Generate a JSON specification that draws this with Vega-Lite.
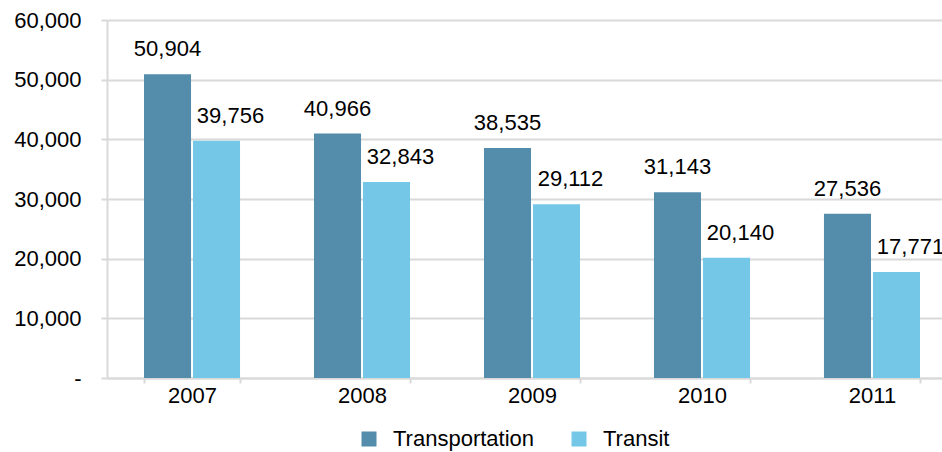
{
  "$schema": "https://vega.github.io/schema/vega-lite/v6.json",
  "autosize": "none",
  "width": 850,
  "height": 358,
  "padding": {"left": 107, "top": 20, "right": 0, "bottom": 74},
  "background": "white",
  "config": {
    "font": "Liberation Sans",
    "view": {"stroke": null},
    "axis": {"labelFont": "Liberation Sans", "labelColor": "#000000", "labelFontSize": 22}
  },
  "data": {
    "values": [
      {"year": "2007", "series": "Transportation", "value": 50904},
      {"year": "2007", "series": "Transit", "value": 39756},
      {"year": "2008", "series": "Transportation", "value": 40966},
      {"year": "2008", "series": "Transit", "value": 32843},
      {"year": "2009", "series": "Transportation", "value": 38535},
      {"year": "2009", "series": "Transit", "value": 29112},
      {"year": "2010", "series": "Transportation", "value": 31143},
      {"year": "2010", "series": "Transit", "value": 20140},
      {"year": "2011", "series": "Transportation", "value": 27536},
      {"year": "2011", "series": "Transit", "value": 17771}
    ]
  },
  "encoding": {
    "x": {
      "field": "year",
      "type": "nominal",
      "scale": {"paddingInner": 0.435, "paddingOuter": 0.2176},
      "axis": {
        "title": null,
        "labelAngle": 0,
        "tickBand": "extent",
        "domainColor": "#d9d9d9",
        "domainWidth": 2,
        "tickColor": "#d9d9d9",
        "tickWidth": 2,
        "tickSize": 5,
        "labelPadding": 2,
        "grid": false
      }
    },
    "xOffset": {
      "field": "series",
      "type": "nominal",
      "sort": ["Transportation", "Transit"],
      "scale": {"paddingInner": 0.04, "paddingOuter": 0}
    },
    "y": {
      "field": "value",
      "type": "quantitative",
      "scale": {"domain": [0, 60000], "nice": false},
      "axis": {
        "title": null,
        "values": [0, 10000, 20000, 30000, 40000, 50000, 60000],
        "labelExpr": "datum.value == 0 ? '-     ' : format(datum.value, ',')",
        "grid": true,
        "gridColor": "#d9d9d9",
        "gridWidth": 2,
        "domainColor": "#d9d9d9",
        "domainWidth": 2,
        "tickColor": "#d9d9d9",
        "tickWidth": 2,
        "tickSize": 6,
        "labelPadding": 20
      }
    }
  },
  "layer": [
    {
      "mark": {"type": "bar"},
      "encoding": {
        "color": {
          "field": "series",
          "type": "nominal",
          "sort": ["Transportation", "Transit"],
          "scale": {"domain": ["Transportation", "Transit"], "range": ["#548DAB", "#74C7E7"]},
          "legend": {
            "title": null,
            "orient": "none",
            "direction": "horizontal",
            "legendX": 251,
            "legendY": 408,
            "symbolType": "square",
            "symbolSize": 225,
            "symbolStrokeWidth": 0,
            "labelFontSize": 22,
            "labelFont": "Liberation Sans",
            "labelColor": "#000000",
            "labelOffset": 13,
            "columnPadding": 33,
            "padding": 0
          }
        }
      }
    },
    {
      "transform": [{"filter": "datum.series == 'Transportation'"}],
      "mark": {"type": "text", "dy": -25, "fontSize": 22, "color": "#000000"},
      "encoding": {"text": {"field": "value", "type": "quantitative", "format": ","}}
    },
    {
      "transform": [{"filter": "datum.series == 'Transit'"}],
      "mark": {"type": "text", "dy": -25, "dx": 14, "fontSize": 22, "color": "#000000"},
      "encoding": {"text": {"field": "value", "type": "quantitative", "format": ","}}
    }
  ]
}
